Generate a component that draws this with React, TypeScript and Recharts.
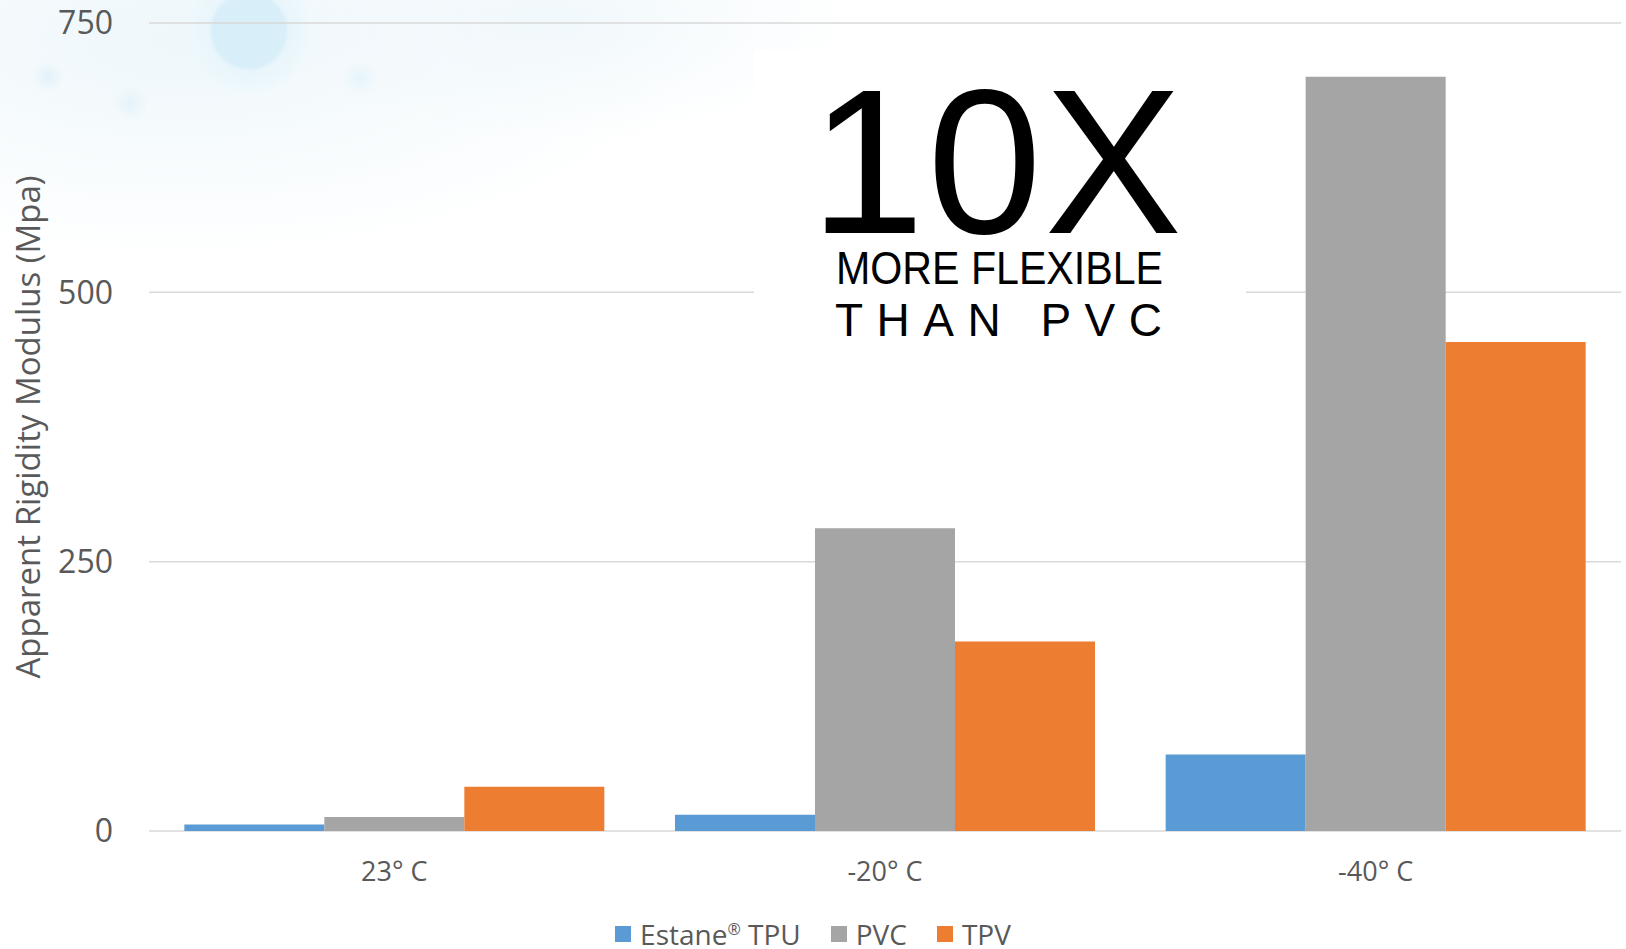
import React from 'react';
import { BarChart, Bar, XAxis, YAxis, CartesianGrid } from 'recharts';

// temperatures along the x axis
const categories = ['23° C', '-20° C', '-40° C'];

// apparent rigidity modulus (MPa)
const estaneTpu = [6, 15, 71];
const pvc = [13, 281, 700];
const tpv = [41, 176, 454];

const yTicks = [0, 250, 500, 750];

const series = [
  { key: 'estane', label: 'Estane', sup: '®', tail: ' TPU', color: '#5B9BD5' },
  { key: 'pvc', label: 'PVC', sup: '', tail: '', color: '#A5A5A5' },
  { key: 'tpv', label: 'TPV', sup: '', tail: '', color: '#ED7D31' },
];

const data = categories.map((name, i) => ({
  name,
  estane: estaneTpu[i],
  pvc: pvc[i],
  tpv: tpv[i],
}));

const W = 1626;
const H = 949;
const TEXT = '#595959';
const FONT = '"Open Sans", "Noto Sans", sans-serif';

const YLabel = (props: any) => {
  const vb = props.viewBox || { x: 0, y: 23, height: 808 };
  const cx = 27;
  const cy = vb.y + vb.height / 2;
  return (
    <text
      x={cx}
      y={cy}
      transform={`rotate(-90, ${cx}, ${cy})`}
      textAnchor="middle"
      dominantBaseline="central"
      fill={TEXT}
      fontSize={33}
      fontFamily={FONT}
    >
      Apparent Rigidity Modulus (Mpa)
    </text>
  );
};

const Background = () => (
  <div
    style={{
      position: 'absolute',
      left: 0,
      top: 0,
      width: W,
      height: H,
      background: [
        'radial-gradient(circle at 249px 31px, #d8eef8 0px, #d8eef8 36px, #e8f5fb 40px, #eef8fc 58px, rgba(255,255,255,0) 64px)',
        'radial-gradient(circle at 48px 77px, #e2f2f9 0px, rgba(255,255,255,0) 16px)',
        'radial-gradient(circle at 130px 103px, #e4f3fa 0px, rgba(255,255,255,0) 18px)',
        'radial-gradient(circle at 360px 78px, #e6f4fa 0px, rgba(255,255,255,0) 18px)',
        'radial-gradient(ellipse 520px 220px at 180px 40px, #eef7fb 0%, rgba(255,255,255,0) 100%)',
        'radial-gradient(ellipse 300px 120px at 560px 20px, #f2f9fc 0%, rgba(255,255,255,0) 100%)',
        '#ffffff',
      ].join(', '),
    }}
  />
);

const Callout = () => (
  <svg
    width={W}
    height={H}
    style={{ position: 'absolute', left: 0, top: 0, pointerEvents: 'none' }}
  >
    <rect x={754} y={50} width={492} height={295} fill="#ffffff" />
    <text
      x={810}
      y={233}
      fontSize={206}
      fontFamily='"Liberation Sans", Arial, sans-serif'
      fill="#000"
      textLength={372}
      lengthAdjust="spacing"
    >
      10X
    </text>
    <text
      x={836}
      y={284}
      fontSize={47}
      fontFamily='"Liberation Sans", Arial, sans-serif'
      fill="#000"
      textLength={327}
      lengthAdjust="spacingAndGlyphs"
    >
      MORE FLEXIBLE
    </text>
    <text
      x={835}
      y={336}
      fontSize={46}
      fontFamily='"Liberation Sans", Arial, sans-serif'
      fill="#000"
      textLength={327}
      lengthAdjust="spacing"
    >
      THAN PVC
    </text>
  </svg>
);

const LegendRow = () => (
  <div
    style={{
      position: 'absolute',
      left: 0,
      top: 919,
      width: W,
      height: 30,
      display: 'flex',
      justifyContent: 'center',
      alignItems: 'center',
      gap: 30,
      fontFamily: FONT,
      fontSize: 28,
      color: TEXT,
      lineHeight: '30px',
    }}
  >
    {series.map(s => (
      <div key={s.key} style={{ display: 'flex', alignItems: 'center', gap: 9 }}>
        <div style={{ width: 16, height: 16, background: s.color }} />
        <span>
          {s.label}
          {s.sup && <sup style={{ fontSize: 16, lineHeight: 0 }}>{s.sup}</sup>}
          {s.tail}
        </span>
      </div>
    ))}
  </div>
);

const App: React.FC = () => {
  return (
    <div style={{ position: 'relative', width: W, height: H, overflow: 'hidden' }}>
      <style>{'body{margin:0}'}</style>
      <Background />
      <div style={{ position: 'absolute', left: 0, top: 0 }}>
        <BarChart
          width={W}
          height={H}
          data={data}
          margin={{ top: 23, right: 5, left: 0, bottom: 0 }}
          barCategoryGap="7.2%"
          barGap={0}
        >
          <CartesianGrid stroke="#D9D9D9" strokeWidth={1.5} vertical={false} />
          <XAxis
            dataKey="name"
            axisLine={false}
            tickLine={false}
            tickSize={0}
            tickMargin={31}
            height={118}
            tick={{ fontSize: 27, fill: TEXT, fontFamily: FONT }}
          />
          <YAxis
            domain={[0, 750]}
            ticks={yTicks}
            axisLine={false}
            tickLine={false}
            tickSize={0}
            tickMargin={36}
            width={149}
            tick={{ fontSize: 32, fill: TEXT, fontFamily: FONT }}
            label={<YLabel />}
          />
          {series.map(s => (
            <Bar
              key={s.key}
              dataKey={s.key}
              name={s.label}
              fill={s.color}
              isAnimationActive={false}
            />
          ))}
        </BarChart>
      </div>
      <Callout />
      <LegendRow />
    </div>
  );
};

export default App;
